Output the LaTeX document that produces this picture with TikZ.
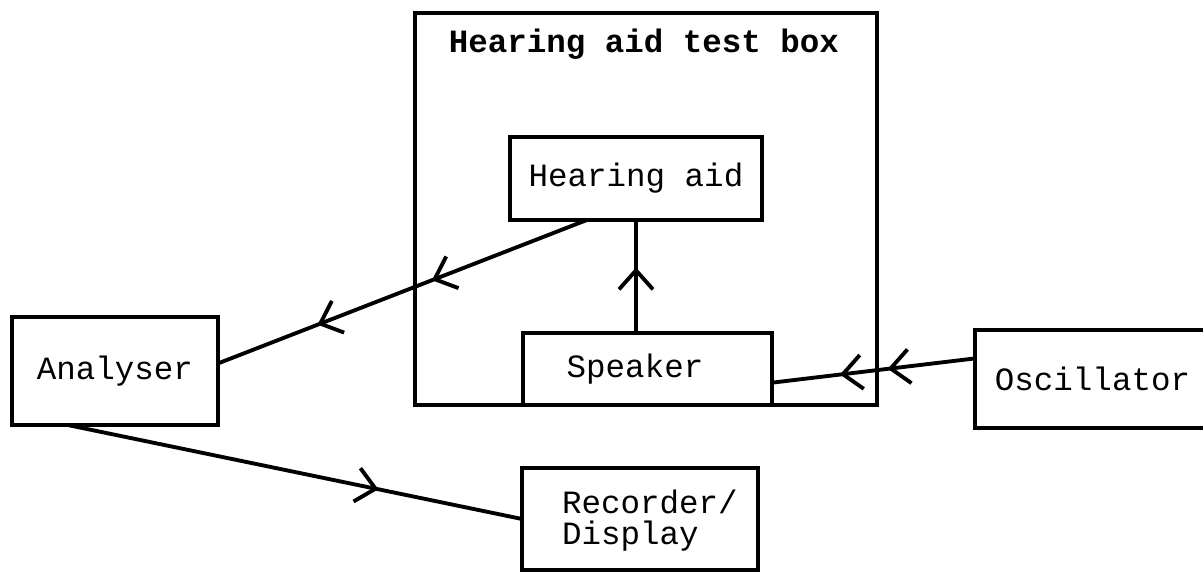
\documentclass[tikz,border=0pt]{standalone}
\usepackage{fontspec}
\setmonofont{Liberation Mono}
\usetikzlibrary{arrows.meta,decorations.markings,calc}
\begin{document}
\begin{tikzpicture}[x=0.02cm,y=-0.02cm,inner sep=0pt,outer sep=0pt,line width=2.2pt,
block/.style={draw,rectangle,inner sep=2pt,font=\ttfamily\fontsize{18.5}{17.5}\selectfont,line width=2.2pt},
flow/.style={postaction={decorate,decoration={markings,mark=at position #1 with {\arrow{Straight Barb[length=3.8mm,width=6.8mm]}}}}}]
\useasboundingbox (0,0) rectangle (1203,574);
\clip (0,0) rectangle (1203,574);
\node[block,minimum width=9.24cm,minimum height=7.84cm] (tb) at (646,209) {};
\node[font=\ttfamily\bfseries\fontsize{18.5}{17.5}\selectfont,anchor=base] (tbtitle) at (644,53) {Hearing aid test box};
\node[block,minimum width=5.04cm,minimum height=1.66cm] (ha) at (636,178.5) {Hearing aid};
\node[block,minimum width=4.98cm,minimum height=1.44cm] (spk) at (647.5,369) {\hspace*{-0.5cm}Speaker};
\node[block,minimum width=4.12cm,minimum height=2.16cm] (ana) at (115,371) {Analyser};
\node[block,minimum width=4.72cm,minimum height=2.04cm,align=left] (rec) at (640,519) {\\[-2pt]\hspace*{0.4cm}Recorder/\\\hspace*{0.4cm}Display};
\node[block,minimum width=4.7cm,minimum height=1.96cm] (osc) at (1092.5,379) {Oscillator};
\draw[flow=0.42,flow=0.73] ($(ha.south west)!0.305!(ha.south east)$) -- ($(ana.north east)!0.43!(ana.south east)$);
\draw[flow=0.58] (ha.south |- spk.north) -- (ha.south);
\draw[flow=0.43,flow=0.665] ($(osc.north west)!0.29!(osc.south west)$) -- ($(spk.north east)!0.69!(spk.south east)$);
\draw[flow=0.684] ($(ana.south west)!0.27!(ana.south east)$) -- (rec.west);
\end{tikzpicture}
\end{document}
